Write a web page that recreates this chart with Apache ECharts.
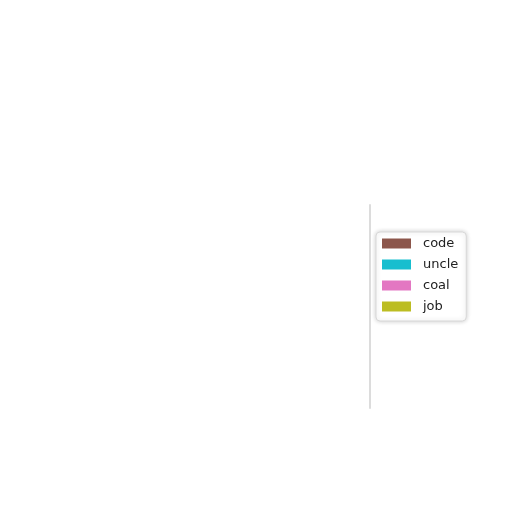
<!DOCTYPE html>
<html>
<head>
    <meta charset="utf-8">
    <title>ECharts</title>
    <script src="https://cdn.jsdelivr.net/npm/echarts@6/dist/echarts.min.js"></script>
    <style>
        html, body {
            width: 100%;
            height: 100%;
            margin: 0;
            background: #ffffff;
        }
    </style>
</head>
<body>
    <div id="main" style="width: 512px;height:512px;"></div>
    <script type="text/javascript">
        var categories = ['a'];
        var seriesNames = ['code', 'uncle', 'coal', 'job'];
        var colors = ['#8c564b', '#17becf', '#e377c2', '#bcbd22'];
        var codeValues = [0];
        var uncleValues = [0];
        var coalValues = [0];
        var jobValues = [0];
        var allValues = [codeValues, uncleValues, coalValues, jobValues];

        var myChart = echarts.init(document.getElementById('main'));

        var option = {
            animation: false,
            color: colors,
            grid: { left: 370, right: 130, top: 205, bottom: 104 },
            legend: {
                orient: 'vertical',
                left: 376,
                top: 232,
                padding: [5, 8, 8, 6],
                itemWidth: 29,
                itemHeight: 10,
                itemGap: 8,
                icon: 'rect',
                backgroundColor: '#ffffff',
                borderColor: '#d8d8d8',
                borderWidth: 1,
                borderRadius: 4,
                shadowColor: 'rgba(0,0,0,0.2)',
                shadowBlur: 5,
                textStyle: { fontSize: 13, color: '#222', fontFamily: 'DejaVu Sans', padding: [0, 0, 0, 7] },
                data: seriesNames
            },
            xAxis: {
                type: 'value',
                show: false
            },
            yAxis: {
                type: 'category',
                data: categories,
                axisLine: { show: true, lineStyle: { color: '#dcdcdc', width: 2 } },
                axisTick: { show: false },
                axisLabel: { show: false },
                splitLine: { show: false }
            },
            series: seriesNames.map(function (name, i) {
                return {
                    name: name,
                    type: 'bar',
                    data: allValues[i]
                };
            })
        };

        myChart.setOption(option);
    </script>
</body>
</html>
